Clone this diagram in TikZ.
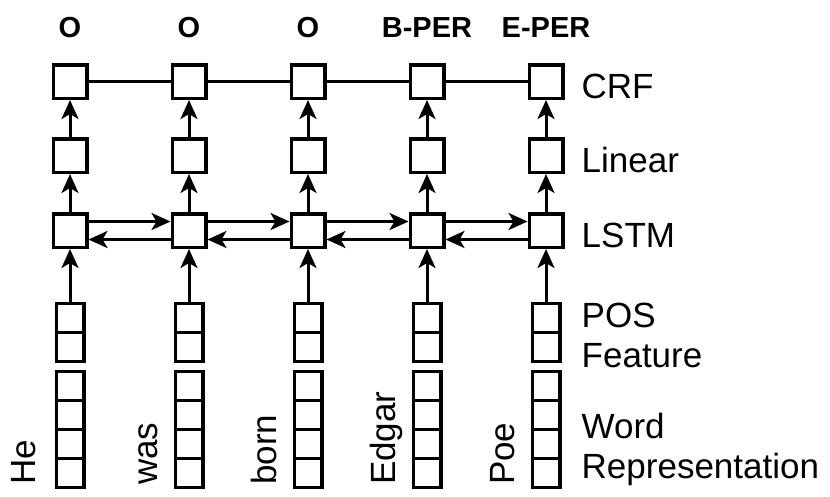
\documentclass[tikz,border=0pt]{standalone}
\usepackage{fontspec}
\setmainfont{Liberation Sans}
\usetikzlibrary{arrows.meta}
\begin{document}
\begin{tikzpicture}[x=1pt,y=-1pt,
 unit/.style={draw, line width=3.5pt, minimum width=33.5pt, minimum height=33.5pt, inner sep=0pt},
 cell/.style={draw, line width=3.5pt, minimum width=27.5pt, minimum height=29pt, inner sep=0pt},
 conn/.style={line width=3pt, -{Stealth[length=19pt,width=17pt,inset=5pt]}},
 plainline/.style={line width=3pt},
 lbl/.style={font=\fontsize{35}{40}\selectfont, inner sep=0pt, anchor=base west},
 tag/.style={font=\fontsize{29}{32}\selectfont\bfseries, inner sep=0pt, anchor=base},
 word/.style={font=\fontsize{35}{40}\selectfont, inner sep=0pt, anchor=base west, rotate=90}]
\useasboundingbox (0,0) rectangle (830,496);
\foreach \i/\x/\t/\w/\o in {1/70/O/He/35,2/189/O/was/31.5,3/308/O/born/31.5,4/427/B-PER/Edgar/31.5,5/546/E-PER/Poe/31.5}{
  \node[tag] (t\i) at (\x,37) {\t};
  \node[unit] (c\i) at (\x,81.5) {};
  \node[unit] (l\i) at (\x,155.5) {};
  \node[unit] (s\i) at (\x,230.5) {};
  \node[cell] (p\i a) at (\x,318) {};
  \node[cell] (p\i b) at (\x,347) {};
  \node[cell] (w\i a) at (\x,386) {};
  \node[cell] (w\i b) at (\x,415) {};
  \node[cell] (w\i c) at (\x,444) {};
  \node[cell] (w\i d) at (\x,473) {};
  \node[word] (n\i) at (\x-\o,485) {\w};
  \draw[conn] (l\i.north) -- (c\i.south);
  \draw[conn] (s\i.north) -- (l\i.south);
  \draw[conn] (p\i a.north) -- (s\i.south);
}
\foreach \i/\j in {1/2,2/3,3/4,4/5}{
  \draw[plainline] (c\i.east) -- (c\j.west);
  \draw[conn] ([yshift=9pt]s\i.east) -- ([yshift=9pt]s\j.west);
  \draw[conn] ([yshift=-9pt]s\j.west) -- ([yshift=-9pt]s\i.east);
}
\node[lbl] (crf) at (581.5,98) {CRF};
\node[lbl] (lin) at (581.5,172) {Linear};
\node[lbl] (lstm) at (581.5,247) {LSTM};
\node[lbl] (pos) at (581.5,327) {POS};
\node[lbl] (feat) at (581.5,367) {Feature};
\node[lbl] (wrd) at (581.5,438) {Word};
\node[lbl] (rep) at (581.5,478) {Representation};
\end{tikzpicture}
\end{document}
